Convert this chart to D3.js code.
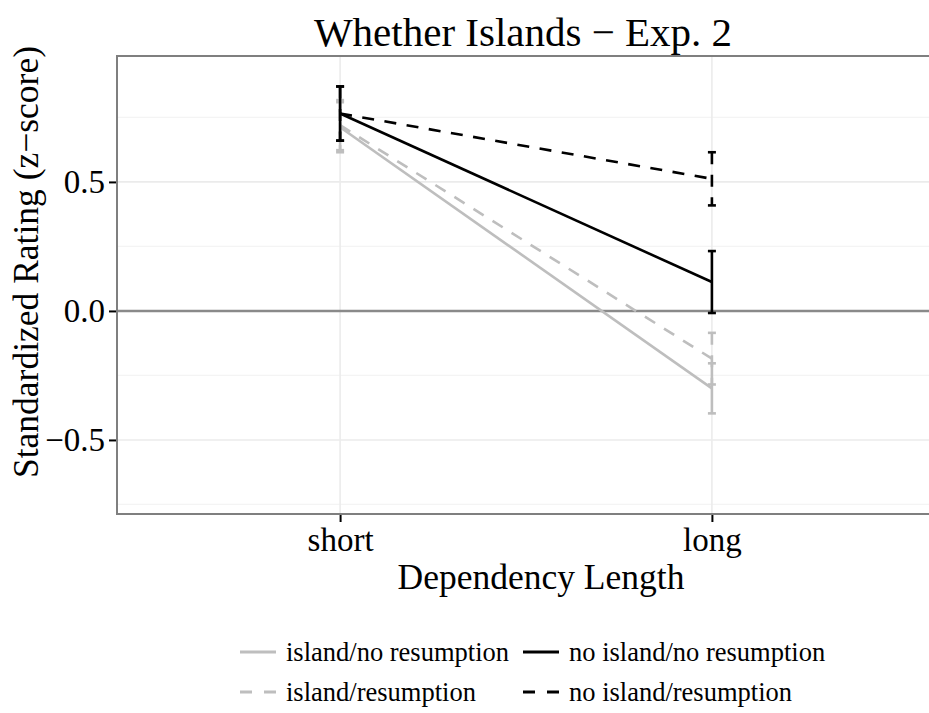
<!DOCTYPE html>
<html>
<head>
<meta charset="utf-8">
<script src="https://cdn.jsdelivr.net/npm/d3@7"></script>
<style>
body{margin:0;background:#fff;}
text{font-family:"Liberation Serif","Times New Roman",serif;fill:#000;}
</style>
</head>
<body>
<svg id="chart" width="929" height="713"></svg>
<script>
const categories = ["short", "long"];
const seriesNames = ["island/no resumption", "island/resumption", "no island/no resumption", "no island/resumption"];
const islandNoRes = [0.712, -0.300];
const islandRes = [0.720, -0.185];
const noIslandNoRes = [0.765, 0.112];
const noIslandRes = [0.765, 0.512];
const seIslandNoRes = [0.097, 0.097];
const seIslandRes = [0.097, 0.100];
const seNoIslandNoRes = [0.105, 0.120];
const seNoIslandRes = [0.105, 0.103];
const yTicks = [-0.5, 0.0, 0.5];
const yMinor = [-0.75, -0.25, 0.25, 0.75];
const yDomain = [-0.787, 0.988];

const series = [
  {name: seriesNames[0], values: islandNoRes, se: seIslandNoRes, color: "#bebebe", dash: null},
  {name: seriesNames[1], values: islandRes, se: seIslandRes, color: "#bebebe", dash: "12,10.5"},
  {name: seriesNames[2], values: noIslandNoRes, se: seNoIslandNoRes, color: "#000000", dash: null},
  {name: seriesNames[3], values: noIslandRes, se: seNoIslandRes, color: "#000000", dash: "12,10.5"}
];

const svg = d3.select("#chart");
const pLeft = 117, pRight = 935, pTop = 56, pBottom = 514;

const x = d3.scalePoint().domain(categories).range([pLeft, pRight]).padding(0.6);
const y = d3.scaleLinear().domain(yDomain).range([pBottom, pTop]);

svg.append("defs").append("clipPath").attr("id","clip")
  .append("rect").attr("x",pLeft).attr("y",pTop).attr("width",pRight-pLeft).attr("height",pBottom-pTop);

const panel = svg.append("g").attr("clip-path","url(#clip)");

panel.selectAll(".minor").data(yMinor).enter().append("line")
  .attr("x1",pLeft).attr("x2",pRight).attr("y1",d=>y(d)).attr("y2",d=>y(d))
  .attr("stroke","#f4f4f4").attr("stroke-width",1.2);
panel.selectAll(".major").data(yTicks).enter().append("line")
  .attr("x1",pLeft).attr("x2",pRight).attr("y1",d=>y(d)).attr("y2",d=>y(d))
  .attr("stroke","#ebebeb").attr("stroke-width",1.6);
panel.selectAll(".vmajor").data(categories).enter().append("line")
  .attr("x1",d=>x(d)).attr("x2",d=>x(d)).attr("y1",pTop).attr("y2",pBottom)
  .attr("stroke","#ebebeb").attr("stroke-width",1.6);

panel.append("line").attr("x1",pLeft).attr("x2",pRight).attr("y1",y(0)).attr("y2",y(0))
  .attr("stroke","#8a8a8a").attr("stroke-width",2.4);

const line = d3.line().x((d,i)=>x(categories[i])).y(d=>y(d));
const capW = 4;
series.forEach(s => {
  panel.append("path").datum(s.values).attr("d", line)
    .attr("fill","none").attr("stroke", s.color).attr("stroke-width",2.6)
    .attr("stroke-dasharray", s.dash);
  s.values.forEach((v,i) => {
    const cx = x(categories[i]);
    const g = panel.append("g").attr("stroke", s.color).attr("stroke-width",2.6).attr("fill","none");
    g.append("line").attr("x1",cx).attr("x2",cx).attr("y1",y(v+s.se[i])).attr("y2",y(v-s.se[i]))
      .attr("stroke-dasharray", s.dash);
    g.append("line").attr("x1",cx-capW).attr("x2",cx+capW).attr("y1",y(v+s.se[i])).attr("y2",y(v+s.se[i]));
    g.append("line").attr("x1",cx-capW).attr("x2",cx+capW).attr("y1",y(v-s.se[i])).attr("y2",y(v-s.se[i]));
  });
});

svg.append("rect").attr("x",pLeft).attr("y",pTop).attr("width",pRight-pLeft).attr("height",pBottom-pTop)
  .attr("fill","none").attr("stroke","#7f7f7f").attr("stroke-width",2);

const yAxis = d3.axisLeft(y).tickValues(yTicks).tickSize(7).tickPadding(4)
  .tickFormat(d => d3.format(".1f")(d).replace("-", "\u2212"));
const yg = svg.append("g").attr("transform",`translate(${pLeft-1},0)`).call(yAxis);
yg.select(".domain").remove();
yg.selectAll(".tick line").attr("stroke","#000").attr("stroke-width",2);
yg.selectAll(".tick text").attr("font-size",33).attr("font-family","Liberation Serif").attr("fill","#000");

const xAxis = d3.axisBottom(x).tickSize(7).tickPadding(6);
const xg = svg.append("g").attr("transform",`translate(0,${pBottom+1})`).call(xAxis);
xg.select(".domain").remove();
xg.selectAll(".tick line").attr("stroke","#000").attr("stroke-width",2);
xg.selectAll(".tick text").attr("font-size",33).attr("font-family","Liberation Serif").attr("fill","#000");

svg.append("text").attr("x",523).attr("y",46).attr("text-anchor","middle").attr("font-size",41)
  .text("Whether Islands \u2212 Exp. 2");
svg.append("text").attr("x",541).attr("y",589).attr("text-anchor","middle").attr("font-size",35.5)
  .text("Dependency Length");
svg.append("text").attr("transform","translate(38,262) rotate(-90)").attr("text-anchor","middle").attr("font-size",35.5)
  .text("Standardized Rating (z\u2212score)");

const legendPos = [
  {kx:240, ty:652}, {kx:240, ty:692}, {kx:523, ty:652}, {kx:523, ty:692}
];
series.forEach((s,i) => {
  const p = legendPos[i];
  svg.append("line").attr("x1",p.kx).attr("x2",p.kx+36).attr("y1",p.ty).attr("y2",p.ty)
    .attr("stroke",s.color).attr("stroke-width",2.8).attr("stroke-dasharray", s.dash ? "12,12" : null);
  svg.append("text").attr("x",p.kx+46).attr("y",p.ty).attr("dy","0.33em").attr("font-size",26.5)
    .text(s.name);
});
</script>
</body>
</html>
